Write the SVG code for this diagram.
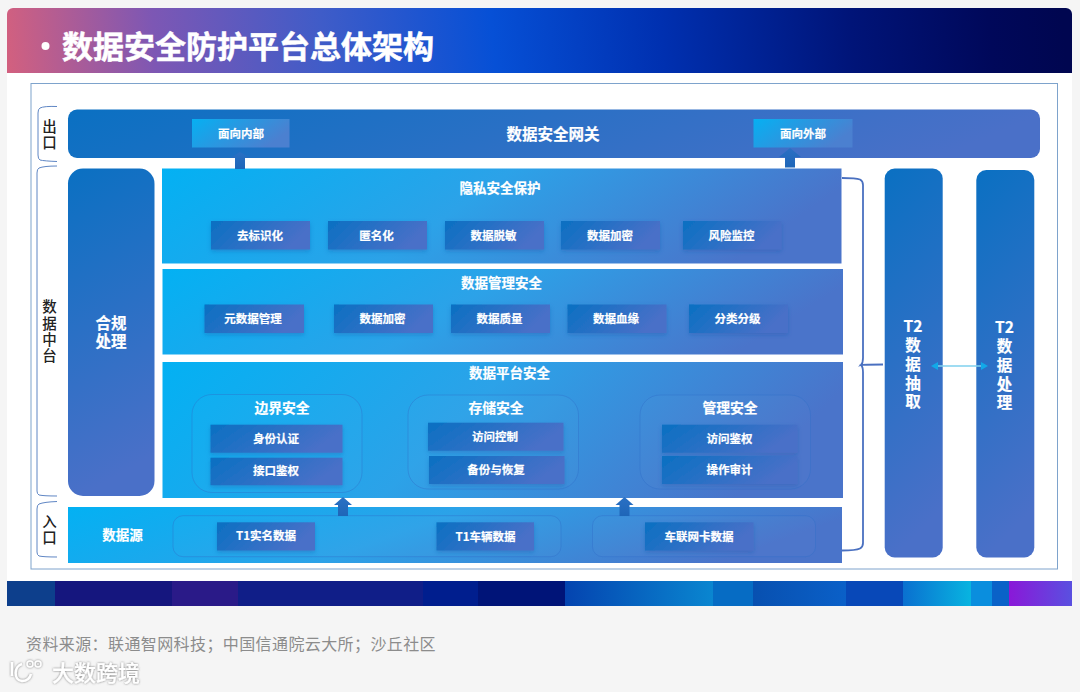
<svg xmlns="http://www.w3.org/2000/svg" width="1080" height="692" viewBox="0 0 1080 692">
<style>
text{font-family:"Noto Sans CJK SC","Liberation Sans",sans-serif;fill:#fff;font-weight:700;text-anchor:middle;dominant-baseline:central;stroke:#fff;stroke-width:.2px}
.s{font-size:11.500px}
.t{font-size:13.500px}
.g{font-size:13.800px}
.v{font-size:15.500px}
.l{font-size:14.500px;font-weight:500;fill:#222;stroke:none}
.box{fill:url(#boxG);filter:url(#sh)}
.panel{fill:url(#panelG)}
.wide{fill:url(#wideG)}
.tall{fill:url(#tallG)}
.grp{fill:#fff;fill-opacity:.02;stroke:#2f6fc8;stroke-opacity:.4;stroke-width:1}
.br{fill:none;stroke:#5f86c4;stroke-width:1}
.ar{fill:url(#arG)}
</style>
<defs>
<linearGradient id="boxG" x1="0" y1="0" x2="1" y2=".3"><stop offset="0" stop-color="#0a70c2"/><stop offset="1" stop-color="#4a70c8"/></linearGradient>
<linearGradient id="wideG" x1="0" y1="0" x2="1" y2=".12"><stop offset="0" stop-color="#0a70c2"/><stop offset="1" stop-color="#4a70c8"/></linearGradient>
<linearGradient id="tallG" x1="0" y1="0" x2=".15" y2="1"><stop offset="0" stop-color="#0a70c2"/><stop offset="1" stop-color="#4a70c8"/></linearGradient>
<linearGradient id="panelG" x1="0" y1="0" x2="1" y2=".2"><stop offset="0" stop-color="#03b1f3"/><stop offset=".5" stop-color="#2ca2e8"/><stop offset="1" stop-color="#4a74ca"/></linearGradient>
<linearGradient id="tagG" x1="0" y1="0" x2="1" y2=".4"><stop offset="0" stop-color="#06b0f2"/><stop offset="1" stop-color="#4b80d0"/></linearGradient>
<linearGradient id="arG" x1="0" y1="0" x2="0" y2="1"><stop offset="0" stop-color="#2a70c4"/><stop offset="1" stop-color="#1e66b8"/></linearGradient>
<linearGradient id="headG" gradientUnits="userSpaceOnUse" x1="10" y1="85" x2="1060" y2="-10"><stop offset="0" stop-color="#d2607f"/><stop offset=".14" stop-color="#7d57b4"/><stop offset=".3" stop-color="#3f5cc8"/><stop offset=".46" stop-color="#0650d6"/><stop offset=".62" stop-color="#0030b0"/><stop offset=".8" stop-color="#001478"/><stop offset=".93" stop-color="#00085a"/><stop offset="1" stop-color="#000650"/></linearGradient>
<linearGradient id="s1"><stop offset="0" stop-color="#0444b0"/><stop offset="1" stop-color="#0a86d0"/></linearGradient>
<linearGradient id="s2"><stop offset="0" stop-color="#0a70d0"/><stop offset="1" stop-color="#08b4e0"/></linearGradient>
<linearGradient id="s3"><stop offset="0" stop-color="#8a18d8"/><stop offset="1" stop-color="#5a50e0"/></linearGradient>
<linearGradient id="s4"><stop offset="0" stop-color="#0850b0"/><stop offset="1" stop-color="#0a60c8"/></linearGradient>
<filter id="sh" x="-10%" y="-20%" width="120%" height="150%"><feDropShadow dx="0" dy="2" stdDeviation="2" flood-color="#1a55a8" flood-opacity=".35"/></filter>
<filter id="wm" x="-10%" y="-20%" width="120%" height="140%"><feDropShadow dx="0" dy="0" stdDeviation="1" flood-color="#666" flood-opacity=".9"/></filter>
</defs>
<rect width="1080" height="692" fill="#f5f5f5"/>
<rect x="7" y="8" width="1065" height="598" fill="#fff" rx="5"/>
<g id="header">
<path d="M7 73V14a6 6 0 0 1 6-6H1066a6 6 0 0 1 6 6V73Z" fill="url(#headG)"/>
<circle cx="45.500" cy="46" r="4" fill="#fff"/>
<text x="248" y="44" style="font-size:31px;stroke-width:.5px">数据安全防护平台总体架构</text>
</g>
<rect id="frame" x="31" y="83.500" width="1026.500" height="485.500" fill="#fff" stroke="#7ea3cc" stroke-width="1"/>
<g id="side-labels">
<path class="br" d="M57 106.500Q44 106 40 108Q38 109 38 113V155Q38 159 40 160Q44 161 57 161.500"/>
<text class="l" x="49.500 49.500" y="125 141">出口</text>
<path class="br" d="M57 166Q44 166 39 168Q37 169 37 173V491Q37 494 39 495Q44 496 57 496"/>
<text class="l" x="49.500 49.500 49.500 49.500" y="305 322 338 354">数据中台</text>
<path class="br" d="M57 501.500Q44 502 39 504Q37 505 37 509V552Q37 555 39 556Q44 557 57 557"/>
<text class="l" x="49.500 49.500" y="520 536">入口</text>
</g>
<g id="gateway">
<rect class="wide" x="68" y="109.500" width="972" height="48.500" rx="9"/>
<text class="v" x="553" y="133">数据安全网关</text>
</g>
<g id="tag-internal"><rect x="192" y="119" width="97.500" height="28.500" fill="url(#tagG)"/><text class="s" x="241" y="132.500">面向内部</text></g>
<g id="tag-external"><rect x="753.500" y="119" width="99" height="28.500" fill="url(#tagG)"/><text class="s" x="803" y="132.500">面向外部</text></g>
<g id="compliance"><rect class="tall" x="68" y="168.500" width="86.500" height="327.500" rx="15"/><text class="v"><tspan x="111" y="322">合规</tspan><tspan x="111" y="340">处理</tspan></text></g>
<g id="privacy">
<rect class="panel" x="162" y="168.500" width="679.500" height="95"/>
<text class="t" x="500" y="187">隐私安全保护</text>
</g>
<g id="n-deid"><rect class="box" x="211" y="221" width="99" height="28.500"/><text class="s" x="260" y="234.500">去标识化</text></g>
<g id="n-anon"><rect class="box" x="328" y="221" width="99" height="28.500"/><text class="s" x="376.500" y="234.500">匿名化</text></g>
<g id="n-mask"><rect class="box" x="445" y="221" width="99" height="28.500"/><text class="s" x="493.500" y="234.500">数据脱敏</text></g>
<g id="n-enc1"><rect class="box" x="561" y="221" width="99" height="28.500"/><text class="s" x="610" y="234.500">数据加密</text></g>
<g id="n-risk"><rect class="box" x="683" y="221" width="98.500" height="28.500"/><text class="s" x="731.500" y="234.500">风险监控</text></g>
<g id="management">
<rect class="panel" x="162.500" y="269" width="680.500" height="85.500"/>
<text class="t" x="501.500" y="282">数据管理安全</text>
</g>
<g id="n-meta"><rect class="box" x="204.500" y="304.500" width="99.500" height="28.500"/><text class="s" x="253" y="317.500">元数据管理</text></g>
<g id="n-enc2"><rect class="box" x="334" y="304.500" width="99" height="28.500"/><text class="s" x="382.500" y="317.500">数据加密</text></g>
<g id="n-quality"><rect class="box" x="451" y="304.500" width="99" height="28.500"/><text class="s" x="499.500" y="317.500">数据质量</text></g>
<g id="n-lineage"><rect class="box" x="567.500" y="304.500" width="99" height="28.500"/><text class="s" x="616" y="317.500">数据血缘</text></g>
<g id="n-class"><rect class="box" x="689" y="304.500" width="99" height="28.500"/><text class="s" x="737.500" y="317.500">分类分级</text></g>
<g id="platform">
<rect class="panel" x="162.500" y="362" width="680.500" height="136"/>
<text class="t" x="509.500" y="372">数据平台安全</text>
</g>
<g id="boundary">
<rect class="grp" x="192" y="394.500" width="170" height="98" rx="20"/>
<text class="g" x="282" y="406.500">边界安全</text>
<rect class="box" x="210.500" y="424.700" width="132" height="28"/><text class="s" x="276" y="437.500">身份认证</text>
<rect class="box" x="210.500" y="457.700" width="132" height="27.500"/><text class="s" x="276" y="470">接口鉴权</text>
</g>
<g id="storage">
<rect class="grp" x="408" y="395" width="170.500" height="94" rx="20"/>
<text class="g" x="496" y="406.500">存储安全</text>
<rect class="box" x="428" y="422.700" width="135.500" height="28"/><text class="s" x="495" y="435.500">访问控制</text>
<rect class="box" x="429" y="456" width="135.500" height="28"/><text class="s" x="496" y="468.500">备份与恢复</text>
</g>
<g id="admin">
<rect class="grp" x="640" y="395" width="170.500" height="94" rx="20"/>
<text class="g" x="730" y="406.500">管理安全</text>
<rect class="box" x="662" y="424.700" width="135.500" height="28"/><text class="s" x="729.500" y="437.500">访问鉴权</text>
<rect class="box" x="662" y="456" width="135.500" height="28"/><text class="s" x="729.500" y="468.500">操作审计</text>
</g>
<g id="source">
<rect class="panel" x="68" y="507" width="774" height="56"/>
<text class="t" x="122.500" y="533.500">数据源</text>
<rect class="grp" x="173" y="515.700" width="388" height="41" rx="10"/>
<rect class="grp" x="592.500" y="515.700" width="223" height="41" rx="10"/>
</g>
<g id="n-t1name"><rect class="box" x="217" y="522.300" width="98" height="28.200"/><text class="s" x="266" y="535">T1实名数据</text></g>
<g id="n-t1car"><rect class="box" x="436.500" y="522.300" width="97.500" height="28.200"/><text class="s" x="485.500" y="535.500">T1车辆数据</text></g>
<g id="n-sim"><rect class="box" x="645" y="522.300" width="108.500" height="28.200"/><text class="s" x="699" y="535.500">车联网卡数据</text></g>
<g id="t2-extract">
<rect class="tall" x="884.700" y="168.500" width="58" height="389" rx="10"/>
<text class="v"><tspan x="913" y="325">T2</tspan><tspan x="913" y="344">数</tspan><tspan x="913" y="363">据</tspan><tspan x="913" y="382">抽</tspan><tspan x="913" y="400">取</tspan></text>
</g>
<g id="t2-process">
<rect class="tall" x="976.300" y="170" width="58" height="387.500" rx="10"/>
<text class="v"><tspan x="1004.500" y="326">T2</tspan><tspan x="1004.500" y="345">数</tspan><tspan x="1004.500" y="364">据</tspan><tspan x="1004.500" y="383">处</tspan><tspan x="1004.500" y="401">理</tspan></text>
</g>
<g id="connectors">
<path class="ar" d="M240 152l10 6h-5v11h-10v-11h-5Z"/>
<path class="ar" d="M790 148l11 9h-6v10.500h-10v-10.500h-6Z"/>
<path class="ar" d="M343 497l9 8h-4v11h-10v-11h-4Z"/>
<path class="ar" d="M624.500 497l9 8h-4v11h-10v-11h-4Z"/>
<path d="M842 178Q856 178 860 179.500Q863 181 863 185V358Q863 363 861 365Q863 364.500 883 364.500Q863 364.500 861 365Q863 367 863 372V543Q863 547 860 548.500Q856 550.500 842 550.500" fill="none" stroke="#4a70c0" stroke-width="1.800"/>
<line x1="935" y1="366" x2="985" y2="366" stroke="#7fd0ee" stroke-width="1.500"/>
<path d="M931 366l7-4v8Z" fill="#12a8e8"/><path d="M988 366l-7-4v8Z" fill="#12a8e8"/>
</g>
<g id="strip">
<rect x="7" y="581" width="48" height="25" fill="#0d3f8c"/>
<rect x="55" y="581" width="117" height="25" fill="#15167e"/>
<rect x="172" y="581" width="66" height="25" fill="#2a1a88"/>
<rect x="238" y="581" width="185" height="25" fill="#101e88"/>
<rect x="423" y="581" width="55" height="25" fill="#001e8e"/>
<rect x="478" y="581" width="87" height="25" fill="#001478"/>
<rect x="565" y="581" width="148" height="25" fill="url(#s1)"/>
<rect x="713" y="581" width="40" height="25" fill="#066cc4"/>
<rect x="753" y="581" width="93" height="25" fill="url(#s4)"/>
<rect x="846" y="581" width="57" height="25" fill="#0848b8"/>
<rect x="903" y="581" width="68" height="25" fill="url(#s2)"/>
<rect x="971" y="581" width="21" height="25" fill="#0a8ede"/>
<rect x="992" y="581" width="17" height="25" fill="#0a62c8"/>
<rect x="1009" y="581" width="63" height="25" fill="url(#s3)"/>
</g>
<text x="231" y="643" style="font-size:16px;font-weight:400;fill:#8c8c8c;stroke:none;letter-spacing:.4px">资料来源：联通智网科技；中国信通院云大所；沙丘社区</text>
<g id="watermark" filter="url(#wm)">
<path d="M12 662v14M22 664c-8 2-9 16 0 17c5 0 8-3 9-7" fill="none" stroke="#fff" stroke-width="2.500"/>
<circle cx="30" cy="664" r="3" fill="none" stroke="#fff" stroke-width="1.500"/><circle cx="38" cy="664" r="3" fill="none" stroke="#fff" stroke-width="1.500"/>
<text x="96" y="671" style="font-size:22px;font-weight:500">大数跨境</text>
</g>
</svg>
